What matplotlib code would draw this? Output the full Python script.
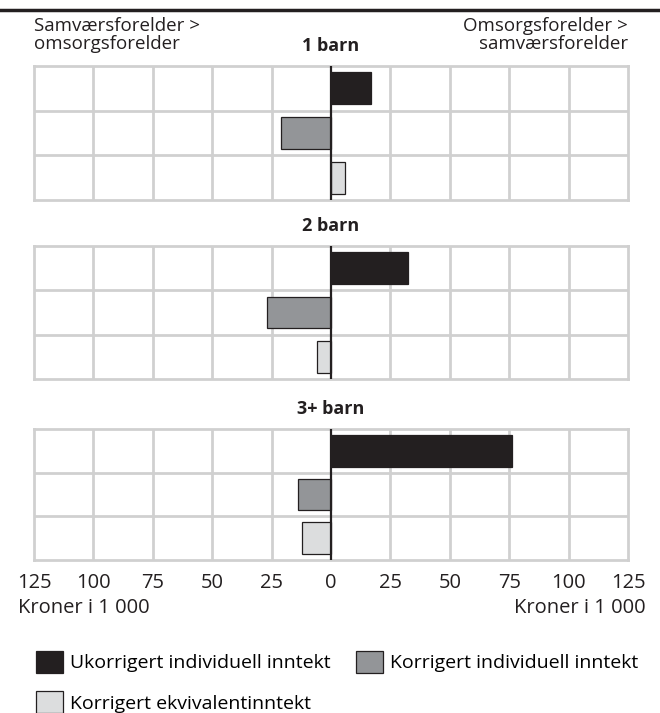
import numpy as np
import matplotlib.pyplot as plt
from matplotlib.patches import Patch

plt.rcParams['font.family'] = ['Open Sans', 'DejaVu Sans']

groups = ['1 barn', '2 barn', '3+ barn']
ukorrigert = [17, 32.5, 76]
korrigert_ind = [-21, -27, -14]
korrigert_ekv = [6, -6, -12]
series_names = ['Ukorrigert individuell inntekt', 'Korrigert individuell inntekt',
                'Korrigert ekvivalentinntekt']
colors = ['#231f20', '#939598', '#dcddde']
ticks = [-125, -100, -75, -50, -25, 0, 25, 50, 75, 100, 125]

W, H = 660, 713
fig = plt.figure(figsize=(W / 100, H / 100), dpi=100)

# panel pixel boxes (top, bottom)
boxes = [(66, 200), (246, 379), (429, 560)]
left, right = 34, 628
gridc = '#d0d0d0'
txtc = '#231f20'

for i, (top, bot) in enumerate(boxes):
    ax = fig.add_axes([left / W, 1 - bot / H, (right - left) / W, (bot - top) / H])
    vals = [ukorrigert[i], korrigert_ind[i], korrigert_ekv[i]]
    ypos = [2, 1, 0]
    for v, y, c in zip(vals, ypos, colors):
        ax.barh(y, v, height=0.72, color=c, edgecolor=txtc, linewidth=0.9, zorder=3)
    for t in ticks[1:-1]:
        if t != 0:
            ax.axvline(t, color=gridc, lw=2, zorder=1)
    for y in (0.5, 1.5):
        ax.axhline(y, color=gridc, lw=2, zorder=1)
    ax.axvline(0, color=txtc, lw=1.6, zorder=4)
    ax.set_xlim(-125, 125)
    ax.set_ylim(-0.5, 2.5)
    ax.set_yticks([])
    ax.set_xticks(ticks)
    for s in ax.spines.values():
        s.set_color(gridc)
        s.set_linewidth(2)
    ax.tick_params(axis='x', length=0, pad=9, labelsize=14.5, colors=txtc)
    if i == 2:
        ax.set_xticklabels([str(abs(t)) for t in ticks])
    else:
        ax.set_xticklabels([])
    fig.text(331 / W, 1 - (top - 20) / H, groups[i], ha='center', va='center',
             fontsize=13, fontweight='bold', color=txtc)

fig.text(34 / W, 1 - 35 / H, 'Samværsforelder >\nomsorgsforelder', ha='left', va='center',
         fontsize=13.5, color=txtc, linespacing=1.0)
fig.text(628 / W, 1 - 35 / H, 'Omsorgsforelder >\nsamværsforelder', ha='right', va='center',
         fontsize=13.5, color=txtc, linespacing=1.0, multialignment='right')
fig.text(18 / W, 1 - 608 / H, 'Kroner i 1 000', ha='left', va='center', fontsize=14.5,
         color=txtc)
fig.text(646 / W, 1 - 608 / H, 'Kroner i 1 000', ha='right', va='center', fontsize=14.5,
         color=txtc)

# top rule
fig.add_artist(plt.Line2D([0, 1], [1 - 10 / H, 1 - 10 / H], color=txtc, lw=2.5))

handles = [Patch(facecolor=c, edgecolor=txtc, linewidth=0.9) for c in colors]
order = [0, 2, 1]
fig.legend([handles[k] for k in order], [series_names[k] for k in order], ncol=2,
           loc='upper left', bbox_to_anchor=(36 / W, 1 - 651 / H), frameon=False,
           fontsize=14, handlelength=1.4, handleheight=1.35, handletextpad=0.36,
           columnspacing=1.3, labelspacing=0.95, borderaxespad=0, borderpad=0)

fig.savefig('out.png', dpi=100)
